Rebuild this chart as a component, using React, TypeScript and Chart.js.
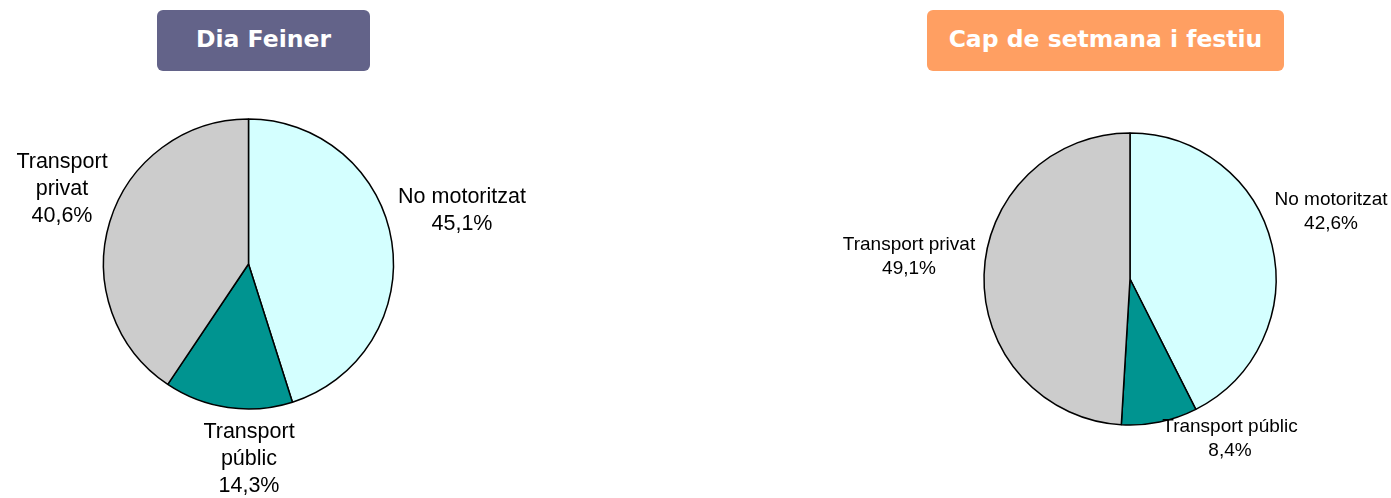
import React, { useEffect, useRef } from 'react';
import { Chart, registerables } from 'chart.js';

Chart.register(...registerables);

// ---- Data ----
const categories = ['No motoritzat', 'Transport públic', 'Transport privat'];
const weekdayValues = [45.1, 14.3, 40.6];
const weekendValues = [42.6, 8.4, 49.1];
const weekdayTitle = 'Dia Feiner';
const weekendTitle = 'Cap de setmana i festiu';

// ---- Styles / layout ----
const sliceColors = ['#D4FFFF', '#009490', '#CCCCCC'];
const weekdayWrap = [false, true, true];
const weekendWrap = [false, false, false];
// offsets (px) from pie centre to the first-line baseline centre of each label
const weekdayLabelOffsets = [[213.5, -61], [0.5, 174], [-186.5, -96]];
const weekendLabelOffsets = [[201, -74], [100, 153], [-221, -29]];

type PieProps = {
  values: number[];
  wrap: boolean[];
  offsets: number[][];
  fontSize: number;
  lineHeight: number;
  left: number;
  width: number;
  padding: { left: number; right: number; top: number; bottom: number };
  radius: number;
};

function PieChart(props: PieProps) {
  const ref = useRef<HTMLCanvasElement | null>(null);
  useEffect(() => {
    if (!ref.current) return;
    const { values, wrap, offsets, fontSize, lineHeight } = props;
    const labelPlugin = {
      id: 'sliceLabels',
      afterDatasetsDraw(chart: any) {
        const ctx = chart.ctx;
        const meta = chart.getDatasetMeta(0);
        const ds = chart.data.datasets[0];
        ctx.save();
        ctx.font = `${fontSize}px "Liberation Sans", Arial, sans-serif`;
        ctx.fillStyle = '#000';
        ctx.textAlign = 'center';
        ctx.textBaseline = 'alphabetic';
        meta.data.forEach((arc: any, i: number) => {
          const name = String(chart.data.labels[i]);
          const lines = wrap[i] ? name.split(' ') : [name];
          lines.push((ds.data[i] as number).toFixed(1).replace('.', ',') + '%');
          const [dx, dy] = offsets[i];
          lines.forEach((t: string, k: number) =>
            ctx.fillText(t, arc.x + dx, arc.y + dy + k * lineHeight)
          );
        });
        ctx.restore();
      },
    };
    const chart = new Chart(ref.current, {
      type: 'pie',
      data: {
        labels: categories,
        datasets: [
          {
            data: values,
            backgroundColor: sliceColors,
            borderColor: '#000000',
            borderWidth: 1.5,
          },
        ],
      },
      options: {
        animation: false,
        responsive: false,
        devicePixelRatio: 1,
        radius: props.radius,
        layout: { padding: props.padding },
        plugins: {
          legend: { display: false },
          tooltip: { enabled: false },
          title: { display: false },
        },
        events: [],
      } as any,
      plugins: [labelPlugin],
    });
    return () => chart.destroy();
  }, []);
  return (
    <canvas
      ref={ref}
      width={props.width}
      height={498}
      style={{ position: 'absolute', left: props.left, top: 0, width: props.width, height: 498, display: 'block' }}
    />
  );
}

function TitleBox({ text, left, width, color }: { text: string; left: number; width: number; color: string }) {
  return (
    <div
      style={{
        position: 'absolute',
        left,
        top: 10,
        width,
        height: 61,
        background: color,
        borderRadius: 6,
        color: '#ffffff',
        fontFamily: '"DejaVu Sans", Verdana, sans-serif',
        fontWeight: 'bold',
        fontSize: 23.5,
        display: 'flex',
        alignItems: 'center',
        justifyContent: 'center',
        paddingBottom: 3,
        boxSizing: 'border-box',
        whiteSpace: 'nowrap',
      }}
    >
      {text}
    </div>
  );
}

export default function App() {
  return (
    <div style={{ position: 'absolute', left: 0, top: 0, width: 1391, height: 498, background: '#ffffff', overflow: 'hidden' }}>
      <PieChart
        values={weekdayValues}
        wrap={weekdayWrap}
        offsets={weekdayLabelOffsets}
        fontSize={21.5}
        lineHeight={27}
        left={0}
        width={695}
        padding={{ left: 98.5, right: 296.5, top: 114, bottom: 84 }}
        radius={145}
      />
      <PieChart
        values={weekendValues}
        wrap={weekendWrap}
        offsets={weekendLabelOffsets}
        fontSize={19}
        lineHeight={23.5}
        left={695}
        width={696}
        padding={{ left: 285, right: 111, top: 129, bottom: 69 }}
        radius={146}
      />
      <TitleBox text={weekdayTitle} left={157} width={213} color="#636389" />
      <TitleBox text={weekendTitle} left={927} width={357} color="#FF9F62" />
    </div>
  );
}
